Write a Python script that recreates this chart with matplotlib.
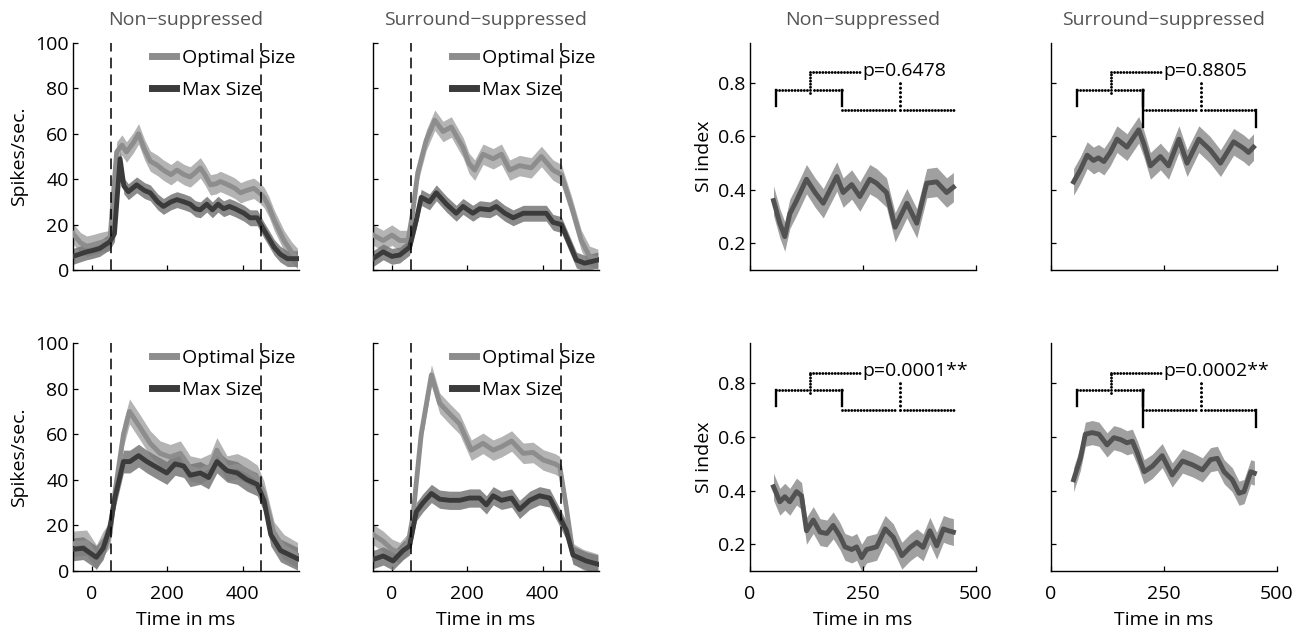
import matplotlib
matplotlib.use("Agg")
import matplotlib.pyplot as plt
import numpy as np

plt.rcParams['font.family'] = ['Open Sans', 'DejaVu Sans']

# ---------------- data ----------------
titles = ["Non\u2212suppressed", "Surround\u2212suppressed"]
legend_labels = ["Optimal Size", "Max Size"]
rate_xticks = [0, 200, 400]
rate_yticks = [0, 20, 40, 60, 80, 100]
si_xticks = [0, 250, 500]
si_yticks = [0.2, 0.4, 0.6, 0.8]
stim_on_off = [50, 450]

# Top row, Non-suppressed
ns_top_opt_t = [-50, -30, -14, 0, 21, 48, 58, 66, 80, 92, 110, 124, 140, 155, 175, 190, 210, 226, 245, 261,
                275, 288, 300, 315, 330, 341, 355, 368, 380, 395, 410, 430, 445, 457, 470, 484, 510, 530, 546]
ns_top_opt_v = [16, 12, 10.5, 11, 12, 13, 35, 52, 55, 52, 56, 60, 53, 48, 46, 44, 42, 44, 42, 41,
                43, 45, 42, 37.5, 38, 39, 38, 37, 36, 34, 35, 36, 34, 32, 28, 22, 13, 8, 5]
ns_top_max_t = [-50, -14, 0, 21, 48, 60, 75, 85, 97, 119, 140, 155, 175, 190, 210, 226, 245, 261, 275, 288,
                305, 320, 335, 350, 365, 380, 404, 420, 439, 457, 470, 484, 500, 519, 546]
ns_top_max_v = [6, 8, 8.5, 9.5, 12.5, 16, 49, 37, 34.5, 37.5, 35, 34, 30, 28, 30, 31, 30, 29, 27, 26.5,
                29, 26.5, 29, 27, 28, 27, 25, 23, 23, 17.6, 14, 10, 7, 5, 5]

# Top row, Surround-suppressed
ss_top_opt_t = [-50, -23, 0, 21, 43, 55, 69, 91, 114, 136, 158, 175, 189, 205, 220, 242, 269, 291, 313, 339,
                370, 397, 428, 450, 477, 503, 525, 547]
ss_top_opt_v = [15.4, 13, 15.4, 13, 13, 25, 43, 57, 66, 61, 63, 58, 54, 47, 44, 51, 49, 51, 44, 46,
                45, 50, 44, 42, 28, 13, 6, 4.7]
ss_top_max_t = [-50, -23, 0, 21, 47, 65, 78, 100, 118, 145, 171, 189, 215, 233, 260, 277, 300, 322, 349, 375,
                410, 428, 450, 468, 490, 512, 547]
ss_top_max_v = [5, 8, 6, 6.6, 10, 22, 32, 30, 34, 29, 25, 28, 25, 27, 26.5, 28, 25, 23, 25, 25,
                25, 21, 20, 13, 4.4, 3, 4.4]

# Bottom row, Non-suppressed
ns_bot_opt_t = [-50, -14, 12, 30, 48, 61, 84, 100, 128, 155, 181, 208, 235, 261, 288, 315, 332, 359, 386, 412,
                439, 457, 484, 510, 546]
ns_bot_opt_v = [12, 12.5, 6, 12, 16, 34, 60, 70, 63, 56, 51.6, 50, 51.6, 45, 44, 46, 53, 45, 46, 44,
                41, 34, 16, 10.5, 7]
ns_bot_max_t = [-50, -23, 12, 30, 48, 61, 84, 101, 124, 146, 172, 199, 221, 244, 261, 288, 310, 332, 359, 386,
                412, 439, 457, 475, 501, 546]
ns_bot_max_v = [9.5, 10, 6, 10, 19, 32, 48, 48, 50.6, 48, 45.5, 43, 47, 46, 42, 43, 41, 48, 44, 43,
                40, 38, 31, 16, 9, 5.4]

# Bottom row, Surround-suppressed
ss_bot_opt_t = [-50, -23, 0, 21, 43, 56, 78, 105, 127, 153, 180, 211, 242, 269, 291, 318, 349, 375, 402, 433,
                446, 463, 481, 508, 547]
ss_bot_opt_v = [16, 13, 9.5, 8, 12, 24, 60, 86, 73.6, 69, 64.5, 53, 56, 53, 54.5, 57, 51.6, 52, 48.7, 47,
                45.7, 28, 7.6, 5, 3]
ss_bot_max_t = [-50, -23, 3, 30, 47, 65, 83, 105, 127, 153, 180, 206, 233, 251, 269, 291, 318, 339, 366, 392,
                419, 441, 463, 481, 516, 547]
ss_bot_max_v = [5, 6.6, 4.4, 9, 11, 26, 30, 34, 31.5, 31, 31, 32, 32, 29, 33, 31, 32, 27, 31, 33,
                32, 25, 18, 7, 4.4, 3]

# Standard errors (band half-widths)
sem_rate = {"ns_top": (4.5, 3.5), "ss_top": (4.5, 3.5), "ns_bot": (5.5, 5.0), "ss_bot": (4.5, 4.0)}

# SI index traces
si_ns_top_t = [52, 66, 77, 88, 103, 125, 144, 162, 192, 206, 225, 243, 265, 280, 302, 321, 347, 369, 391, 413, 435, 450]
si_ns_top_v = [0.36, 0.275, 0.225, 0.31, 0.36, 0.44, 0.39, 0.35, 0.45, 0.39, 0.42, 0.375, 0.44, 0.425, 0.39,
               0.26, 0.35, 0.275, 0.425, 0.43, 0.39, 0.41]
si_ss_top_t = [50, 65, 80, 94, 105, 117, 131, 146, 168, 194, 205, 220, 242, 260, 283, 301, 327, 352, 375, 404, 426, 437, 448]
si_ss_top_v = [0.43, 0.475, 0.53, 0.51, 0.52, 0.506, 0.54, 0.59, 0.56, 0.625, 0.575, 0.49, 0.525, 0.49, 0.59,
               0.50, 0.59, 0.55, 0.50, 0.58, 0.556, 0.54, 0.56]
si_ns_bot_t = [52, 66, 77, 88, 103, 114, 125, 140, 155, 170, 184, 199, 210, 225, 236, 247, 258, 280, 299, 317,
               336, 354, 369, 383, 398, 413, 428, 439, 450]
si_ns_bot_v = [0.414, 0.358, 0.377, 0.358, 0.396, 0.38, 0.25, 0.29, 0.245, 0.24, 0.27, 0.23, 0.19, 0.18, 0.19,
               0.15, 0.18, 0.19, 0.257, 0.226, 0.157, 0.188, 0.207, 0.188, 0.25, 0.194, 0.257, 0.25, 0.245]
si_ss_bot_t = [50, 65, 76, 91, 106, 124, 139, 154, 168, 180, 191, 206, 224, 246, 268, 291, 313, 335, 353, 368,
               383, 401, 416, 427, 442, 450]
si_ss_bot_v = [0.44, 0.52, 0.61, 0.616, 0.61, 0.57, 0.597, 0.59, 0.578, 0.584, 0.54, 0.47, 0.49, 0.53, 0.458,
               0.51, 0.496, 0.477, 0.515, 0.52, 0.47, 0.44, 0.39, 0.396, 0.47, 0.465]
si_sem = {"ns_top": 0.055, "ss_top": 0.05, "ns_bot": 0.05, "ss_bot": 0.045}

# significance brackets: epoch edges (ms), bracket levels
epoch_edges = [57, 204, 453]
bracket_levels = [0.775, 0.70, 0.84]
p_texts = {"ns_top": "p=0.6478", "ss_top": "p=0.8805", "ns_bot": "p=0.0001**", "ss_bot": "p=0.0002**"}

# ---------------- style ----------------
OPT_LINE, OPT_BAND = "#8d8d8d", "#b4b4b4"
MAX_LINE, MAX_BAND = "#3b3b3b", "#777777"
SI_LINE, SI_BAND = "#525252", "#a0a0a0"
TITLE_COLOR = "#555555"
FS = 14

fig = plt.figure(figsize=(13, 6.32), dpi=100)
W, H = 1300, 632
col_left = [73, 373, 750, 1051]
col_w = 226
rows = [(43, 270), (343, 571)]


def make_ax(col, row):
    top, bot = rows[row]
    return fig.add_axes([col_left[col] / W, 1 - bot / H, col_w / W, (bot - top) / H])


def style_ax(ax, xlab, ylab):
    for s in ("top", "right"):
        ax.spines[s].set_visible(False)
    for s in ("left", "bottom"):
        ax.spines[s].set_linewidth(1.0)
    ax.tick_params(direction="in", length=3.5, width=0.9, labelsize=FS)
    ax.tick_params(axis="x", pad=10, labelbottom=xlab)
    ax.tick_params(axis="y", pad=3, labelleft=ylab)


def draw_rate(ax, t_o, v_o, t_m, v_m, sems, show_xl, show_yl):
    t_o, v_o, t_m, v_m = map(np.asarray, (t_o, v_o, t_m, v_m))
    so, sm = sems
    ax.fill_between(t_o, v_o - so, v_o + so, color=OPT_BAND, lw=0, zorder=1)
    ax.fill_between(t_m, v_m - sm, v_m + sm, color=MAX_BAND, lw=0, alpha=0.85, zorder=2)
    ax.plot(t_o, v_o, color=OPT_LINE, lw=3.5, solid_joinstyle="round", zorder=3, label=legend_labels[0])
    ax.plot(t_m, v_m, color=MAX_LINE, lw=3.5, solid_joinstyle="round", zorder=4, label=legend_labels[1])
    for x in stim_on_off:
        ax.axvline(x, color="black", lw=1.1, dashes=(7, 4), zorder=5)
    ax.set_xlim(-50, 550)
    ax.set_ylim(0, 100)
    ax.set_xticks(rate_xticks)
    ax.set_yticks(rate_yticks)
    style_ax(ax, show_xl, show_yl)
    leg = ax.legend(loc="upper right", bbox_to_anchor=(1.0, 0.99), frameon=False, fontsize=FS,
                    handlelength=1.2, handletextpad=0.3, labelspacing=0.72, borderaxespad=0.0,
                    borderpad=0.2)
    for h in leg.get_lines():
        h.set_linewidth(5)
    if show_xl:
        ax.set_xlabel("Time in ms", fontsize=FS, labelpad=6)


def dotted(ax, xs, ys):
    ax.plot(xs, ys, color="black", lw=2.1, dashes=(0.01, 1.05), dash_capstyle="round", zorder=6)


def solid(ax, xs, ys):
    ax.plot(xs, ys, color="black", lw=1.7, zorder=6)


def draw_si(ax, t, v, sem, ptxt, deep_ends, show_xl, show_yl):
    t, v = np.asarray(t), np.asarray(v)
    ax.fill_between(t, v - sem, v + sem, color=SI_BAND, lw=0, zorder=1)
    ax.plot(t, v, color=SI_LINE, lw=3.5, solid_joinstyle="round", zorder=2)
    e0, e1, e2 = epoch_edges
    y1, y2, y3 = bracket_levels
    m1 = (e0 + e1) / 2 + 3
    m2 = (e1 + e2) / 2 + 4
    # bracket 1
    dotted(ax, [e0, m1 - 6], [y1, y1])
    dotted(ax, [m1 + 7, e1], [y1, y1])
    solid(ax, [e0, e0], [y1 - 0.06, y1])
    solid(ax, [e1, e1], [y1 - 0.06, y1])
    # bracket 2
    dotted(ax, [e1, m2 - 9], [y2, y2])
    dotted(ax, [m2 + 9, e2], [y2, y2])
    if deep_ends:
        solid(ax, [e1, e1], [y2 - 0.065, y1])
        solid(ax, [e2, e2], [y2 - 0.065, y2])
    # connectors
    dotted(ax, [m1, m1], [y1 - 0.012, y3])
    dotted(ax, [m1, 248], [y3, y3])
    ax.plot([m2, m2], [y2, y3 - 0.03], color="black", lw=2.2, dashes=(0.01, 1.45),
            dash_capstyle="round", zorder=6)
    ax.text(248, y3 + 0.004, ptxt, fontsize=FS, ha="left", va="center", zorder=7)
    ax.set_xlim(0, 500)
    ax.set_ylim(0.1, 0.95)
    ax.set_xticks(si_xticks)
    ax.set_yticks(si_yticks)
    style_ax(ax, show_xl, show_yl)
    if show_xl:
        ax.set_xlabel("Time in ms", fontsize=FS, labelpad=6)


# Rate panels
a = make_ax(0, 0)
draw_rate(a, ns_top_opt_t, ns_top_opt_v, ns_top_max_t, ns_top_max_v, sem_rate["ns_top"], False, True)
a.set_ylabel("Spikes/sec.", fontsize=FS, labelpad=5)
a.set_title(titles[0], fontsize=FS, color=TITLE_COLOR, pad=13)

a = make_ax(1, 0)
draw_rate(a, ss_top_opt_t, ss_top_opt_v, ss_top_max_t, ss_top_max_v, sem_rate["ss_top"], False, False)
a.set_title(titles[1], fontsize=FS, color=TITLE_COLOR, pad=13)

a = make_ax(0, 1)
draw_rate(a, ns_bot_opt_t, ns_bot_opt_v, ns_bot_max_t, ns_bot_max_v, sem_rate["ns_bot"], True, True)
a.set_ylabel("Spikes/sec.", fontsize=FS, labelpad=5)

a = make_ax(1, 1)
draw_rate(a, ss_bot_opt_t, ss_bot_opt_v, ss_bot_max_t, ss_bot_max_v, sem_rate["ss_bot"], True, False)

# SI panels
a = make_ax(2, 0)
draw_si(a, si_ns_top_t, si_ns_top_v, si_sem["ns_top"], p_texts["ns_top"], False, False, True)
a.set_ylabel("SI index", fontsize=FS, labelpad=4)
a.set_title(titles[0], fontsize=FS, color=TITLE_COLOR, pad=13)

a = make_ax(3, 0)
draw_si(a, si_ss_top_t, si_ss_top_v, si_sem["ss_top"], p_texts["ss_top"], True, False, False)
a.set_title(titles[1], fontsize=FS, color=TITLE_COLOR, pad=13)

a = make_ax(2, 1)
draw_si(a, si_ns_bot_t, si_ns_bot_v, si_sem["ns_bot"], p_texts["ns_bot"], False, True, True)
a.set_ylabel("SI index", fontsize=FS, labelpad=4)

a = make_ax(3, 1)
draw_si(a, si_ss_bot_t, si_ss_bot_v, si_sem["ss_bot"], p_texts["ss_bot"], True, True, False)

fig.savefig("out.png", dpi=100, facecolor="white")
